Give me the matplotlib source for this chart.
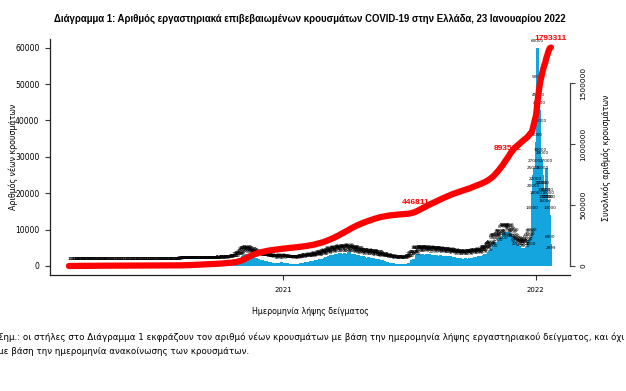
import numpy as np
import pandas as pd
import matplotlib
matplotlib.use('Agg')
import matplotlib.pyplot as plt
import matplotlib.dates as mdates

#++++++++++++++++++++++++++++++++++++++++++++++
# Daily new cases (by sample date), one list per month
#++++++++++++++++++++++++++++++++++++++++++++++
feb20 = [1, 2, 0, 1]
mar20 = [2, 3, 3, 10, 12, 15, 20, 15, 20, 25,
         30, 40, 50, 60, 60, 70, 70, 80, 90, 90,
         80, 90, 100, 80, 70, 80, 90, 80, 70, 60,
         70]
apr20 = [60, 60, 50, 50, 40, 40, 50, 40, 40, 30,
         30, 30, 20, 30, 20, 20, 30, 20, 20, 40,
         60, 30, 20, 20, 15, 15, 10, 15, 10, 10]
may20 = [10, 10, 5, 10, 10, 15, 10, 10, 5, 10,
         10, 10, 15, 10, 10, 5, 10, 5, 10, 10,
         10, 15, 10, 10, 5, 10, 10, 10, 10, 15,
         10]
jun20 = [10, 15, 10, 15, 10, 20, 15, 10, 10, 15,
         20, 15, 20, 15, 10, 20, 15, 20, 20, 25,
         20, 15, 20, 20, 25, 15, 20, 25, 20, 20]
jul20 = [20, 15, 20, 25, 20, 15, 20, 25, 30, 30,
         25, 20, 25, 30, 25, 30, 30, 35, 30, 25,
         30, 35, 40, 40, 45, 40, 50, 50, 55, 60,
         70]
aug20 = [80, 100, 110, 90, 120, 150, 130, 140, 160, 180,
         200, 220, 250, 230, 210, 200, 230, 250, 240, 220,
         230, 260, 190, 170, 250, 290, 300, 250, 220, 200,
         240]
sep20 = [270, 250, 230, 220, 180, 160, 280, 290, 270, 260,
         240, 200, 170, 310, 330, 340, 300, 280, 230, 200,
         320, 340, 360, 330, 310, 260, 230, 380, 410, 390]
oct20 = [420, 400, 350, 300, 450, 480, 500, 470, 430, 380,
         340, 520, 560, 600, 580, 550, 500, 480, 700, 760,
         820, 880, 900, 850, 800, 1300, 1400, 1500, 1600, 1700,
         1500]
nov20 = [1800, 2200, 2600, 2800, 3000, 3100, 2900, 2500, 3200, 3300,
         3100, 3000, 2700, 2300, 2000, 2800, 2700, 2600, 2400, 2300,
         2000, 1700, 2100, 2000, 1900, 1800, 1600, 1400, 1300, 1700]
dec20 = [1600, 1500, 1400, 1300, 1200, 1000, 1300, 1200, 1100, 1000,
         1000, 900, 700, 1000, 900, 900, 850, 800, 700, 500,
         900, 850, 800, 700, 500, 400, 600, 900, 1000, 950,
         700]
jan21 = [400, 700, 600, 700, 800, 750, 700, 650, 500, 450,
         600, 550, 600, 650, 550, 450, 350, 600, 650, 600,
         550, 500, 450, 400, 600, 750, 800, 850, 800, 650,
         600]
feb21 = [900, 1000, 1100, 1000, 950, 800, 700, 1100, 1200, 1300,
         1200, 1100, 900, 800, 1400, 1500, 1600, 1500, 1400, 1200,
         1000, 1700, 1800, 1900, 1800, 1700, 1500, 1300]
mar21 = [2200, 2300, 2400, 2300, 2100, 1800, 1600, 2600, 2800, 2900,
         2700, 2500, 2200, 1900, 3000, 3100, 3200, 3000, 2800, 2400,
         2100, 3300, 3400, 3500, 3300, 3100, 2700, 2300, 3400, 3600,
         3500]
apr21 = [3300, 3100, 2600, 2200, 3600, 3800, 3500, 3300, 3000, 2600,
         2200, 3200, 3400, 3200, 3000, 2800, 2300, 1900, 2900, 3000,
         2800, 2600, 2400, 2000, 1600, 2500, 2600, 2400, 2200, 2000]
may21 = [1800, 1500, 2300, 2400, 2300, 2100, 1900, 1600, 1300, 2200,
         2300, 2100, 1900, 1700, 1400, 1100, 1900, 2000, 1800, 1600,
         1400, 1100, 900, 1200, 1500, 1400, 1300, 1100, 900, 700,
         1000]
jun21 = [1000, 900, 850, 800, 650, 500, 700, 750, 700, 650,
         600, 500, 400, 600, 550, 500, 450, 400, 350, 300,
         500, 550, 500, 450, 400, 350, 300, 500, 600, 650]
jul21 = [800, 900, 800, 700, 1300, 1600, 1700, 1900, 2000, 1900,
         1500, 3102, 3000, 3200, 3100, 3000, 2600, 2200, 3300, 3400,
         3300, 3100, 2900, 2500, 2100, 3000, 3200, 3100, 2900, 2800,
         2400]
aug21 = [3200, 3000, 2900, 2800, 2700, 2400, 2000, 2900, 3100, 3000,
         2900, 2800, 2500, 2100, 2800, 2900, 2800, 2700, 2600, 2300,
         1900, 2700, 2800, 2700, 2600, 2500, 2200, 1800, 2600, 2700,
         2600]
sep21 = [2500, 2400, 2300, 2000, 1700, 2400, 2300, 2200, 2100, 2000,
         1800, 1500, 2200, 2100, 2000, 1900, 1800, 1600, 1400, 2000,
         2100, 2000, 1900, 1900, 1700, 1500, 2100, 2200, 2300, 2200]
oct21 = [2100, 1900, 1600, 2400, 2500, 2400, 2300, 2200, 2000, 1700,
         2600, 2700, 2600, 2500, 2400, 2100, 1800, 3000, 3200, 3300,
         3400, 3300, 2900, 2500, 3900, 4200, 4400, 4500, 4600, 4100,
         3600]
nov21 = [5800, 6200, 6500, 6700, 6600, 6000, 5200, 7000, 7400, 7600,
         7700, 7500, 6800, 5800, 8700, 9000, 9200, 9300, 9100, 7600,
         6500, 9101, 9300, 9000, 8600, 8200, 7300, 6200, 7800, 7900]
dec21 = [6500, 6200, 5800, 5000, 4200, 5800, 5600, 5400, 5200, 4600,
         3800, 5000, 5000, 4900, 4800, 4200, 3500, 4800, 5200, 5600,
         6000, 6500, 7000, 7800, 4200, 8000, 14000, 20000, 25000, 27000,
         22000]
jan22 = [18000, 34000, 60000, 50000, 45000, 43000, 38000, 30000, 21000, 29000,
         25000, 21000, 19000, 17000, 16000, 27000, 19000, 17000, 18000, 17000,
         14000, 6000, 2899]

month_starts = ['2020-02-26', '2020-03-01', '2020-04-01', '2020-05-01', '2020-06-01',
                '2020-07-01', '2020-08-01', '2020-09-01', '2020-10-01', '2020-11-01',
                '2020-12-01', '2021-01-01', '2021-02-01', '2021-03-01', '2021-04-01',
                '2021-05-01', '2021-06-01', '2021-07-01', '2021-08-01', '2021-09-01',
                '2021-10-01', '2021-11-01', '2021-12-01', '2022-01-01']
month_lists = [feb20, mar20, apr20, may20, jun20, jul20, aug20, sep20, oct20, nov20,
               dec20, jan21, feb21, mar21, apr21, may21, jun21, jul21, aug21, sep21,
               oct21, nov21, dec21, jan22]

# labelled points on the cumulative curve
label_dates = ['2021-07-12', '2021-11-22', '2022-01-23']
label_texts = ['446811', '893512', '1793311']

year_ticks = ['2021-01-01', '2022-01-01']
year_labels = ['2021', '2022']

title = 'Διάγραμμα 1: Αριθμός εργαστηριακά επιβεβαιωμένων κρουσμάτων COVID-19 στην Ελλάδα, 23 Ιανουαρίου 2022'
note1 = 'Σημ.: οι στήλες στο Διάγραμμα 1 εκφράζουν τον αριθμό νέων κρουσμάτων με βάση την ημερομηνία λήψης εργαστηριακού δείγματος, και όχι'
note2 = 'με βάση την ημερομηνία ανακοίνωσης των κρουσμάτων.'

BLUE = '#14A5DE'
RED = '#FF0000'
narrow = ['Liberation Sans Narrow', 'Liberation Sans', 'DejaVu Sans']

#%%
dates = []
for start, vals in zip(month_starts, month_lists):
    dates.extend(pd.date_range(start, periods=len(vals)))
x = mdates.date2num(dates)
new_cases = np.concatenate(month_lists)
total_cases = np.cumsum(new_cases)

W, H = 626, 391
fig = plt.figure(figsize=(W/100, H/100), dpi=100)
ax = fig.add_axes([50/W, 116/H, 520/W, 235.7/H])

ax.bar(x, new_cases, width=4.5, color=BLUE, linewidth=0, zorder=1)
for xi, v in zip(x, new_cases):
    ax.annotate(str(v), (xi, v), xytext=(0, 5), textcoords='offset points',
                ha='center', va='center', fontsize=3, color='black', zorder=2)

x0 = mdates.date2num(pd.Timestamp('2021-01-01'))
ax.set_xlim(x0 - 337.4, x0 + 414.6)
ax.set_ylim(-2500, 62300)
ax.set_yticks(range(0, 60001, 10000))
ax.set_yticklabels([str(v) for v in range(0, 60001, 10000)])
ax.set_xticks(mdates.date2num(pd.to_datetime(year_ticks)))
ax.set_xticklabels(year_labels)
ax.tick_params(axis='y', length=3.6, width=0.8, pad=4, labelsize=5.5, color='#333333')
ax.tick_params(axis='x', length=3.6, width=0.8, pad=5, labelsize=5, color='#333333')
for s in ['top', 'right']:
    ax.spines[s].set_visible(False)
for s in ['left', 'bottom']:
    ax.spines[s].set_linewidth(0.9)
    ax.spines[s].set_color('#222222')

# cumulative total on the right axis
ax2 = ax.twinx()
ax2.plot(x, total_cases, color=RED, lw=4.5, solid_capstyle='round', zorder=3)
for d, t in zip(label_dates, label_texts):
    xd = mdates.date2num(pd.Timestamp(d))
    yd = total_cases[list(dates).index(pd.Timestamp(d))]
    ax2.annotate(t, (xd, yd), xytext=(0, 6.2), textcoords='offset points',
                 ha='center', va='center', fontsize=6, fontweight='bold',
                 color=RED, family=narrow, zorder=4)
ax2.set_ylim(-74000, 1861000)
ax2.set_yticks([0, 500000, 1000000, 1500000])
ax2.set_yticklabels(['0', '500000', '1000000', '1500000'], rotation=90, va='center')
ax2.tick_params(axis='y', length=3.6, width=0.8, pad=4, labelsize=5.3, color='#444444')
for s in ['top', 'left', 'bottom']:
    ax2.spines[s].set_visible(False)
ax2.spines['right'].set_bounds(0, 1500000)
ax2.spines['right'].set_linewidth(0.9)
ax2.spines['right'].set_color('#444444')

# texts
t = fig.text(310/W, 1 - 19/H, title, ha='center', va='center', fontsize=8,
             fontweight='bold', family=narrow)
# shrink the title so it spans the plot width like the original
r = fig.canvas.get_renderer()
tw = t.get_window_extent(renderer=r).width
t.set_fontsize(8 * 516 / tw)

fig.text(310/W, 1 - 312/H, 'Ημερομηνία λήψης δείγματος', ha='center', va='center', fontsize=5.7)
fig.text(13/W, 1 - 157/H, 'Αριθμός νέων κρουσμάτων', rotation=90, ha='center', va='center', fontsize=5.7)
fig.text(606/W, 1 - 158/H, 'Συνολικός αριθμός κρουσμάτων', rotation=90, ha='center', va='center', fontsize=5.7)
fig.text(-2/W, 1 - 337/H, note1, ha='left', va='center', fontsize=6.3)
fig.text(-2/W, 1 - 351/H, note2, ha='left', va='center', fontsize=6.3)

fig.savefig('out.png', dpi=100)
